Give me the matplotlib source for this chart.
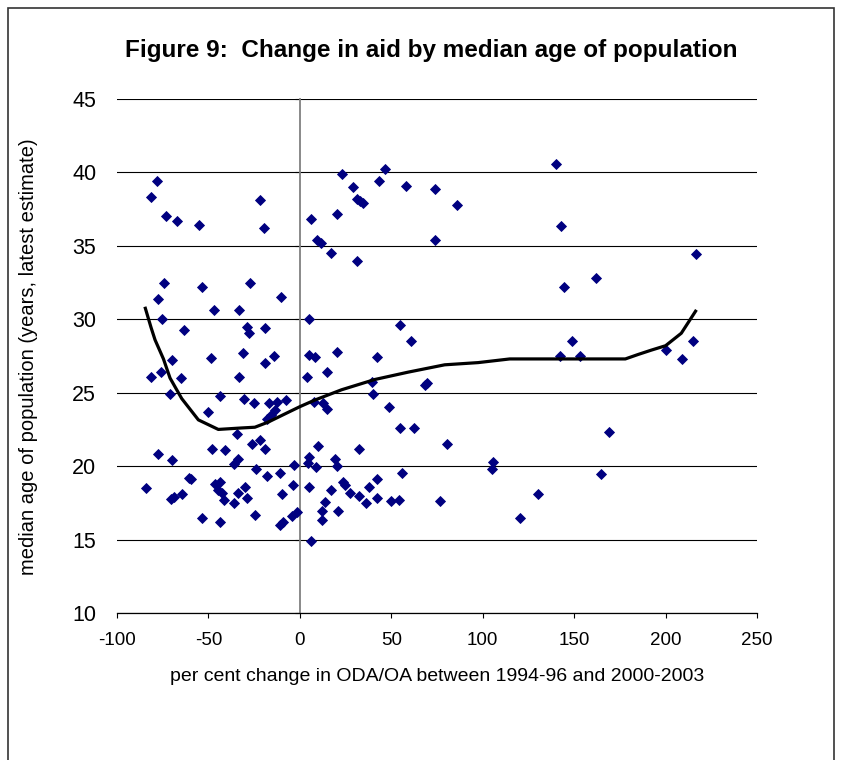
#!/usr/bin/env python3

import matplotlib
matplotlib.use("Agg")
import matplotlib.pyplot as plt

plt.rcParams['font.family'] = ['Liberation Sans', 'DejaVu Sans']
plt.rcParams['axes.unicode_minus'] = False

# per cent change in ODA/OA (x) and median age (y)
aid_change = [
    -78.3, -81.6, -73.2, -67.4, -55.2, -22.0, -19.7, 6.2, 9.5, 11.5,
    -74.3, -77.6, -53.7, -27.1, -10.4, -75.2, -46.8, -33.1, -63.4, -28.7,
    -28.0, -18.9, 5.1,
    -70.1, -48.6, -31.1, -14.4, -18.9, 5.1, 8.2, -81.6, -76.0, -65.0,
    -33.1, 3.7, -70.8, -43.5, -30.6, -25.3, -16.7, -12.3, -7.8, -50.4,
    -13.8, -16.0, -18.0, 7.7, -34.6, -21.9, -26.2, -18.9, -48.1, -41.1,
    -77.4, -69.9, -33.7, -36.1, -3.3, 10.1, 4.9, 4.6, 8.7, -23.8,
    -17.8, -11.1, -60.7, -59.6, -84.2, -46.4, -43.7, -44.6, -42.5, -30.1,
    -33.7, -29.0, -41.7, -36.2, -4.0, 5.1, -9.8, -64.6, -68.6, -70.5,
    -24.6, -53.7, -43.5, -1.3, -4.5, -9.1, -10.9, 6.0,
    22.8, 46.4, 43.2, 29.2, 58.3, 73.8, 31.5, 34.3, 32.8, 86.2,
    20.1, 73.8, 16.9, 31.2, 55.0, 60.9, 20.1, 42.3,
    15.0, 39.7, 40.1, 68.3, 69.6, 12.8, 15.0, 48.6, 54.9, 62.3,
    80.2, 32.5, 19.1, 20.1, 105.7, 105.3, 55.6, 42.3, 23.7, 24.6,
    27.3, 37.9, 16.9, 32.5, 35.9, 42.3, 49.7, 54.1, 76.5, 13.7,
    11.9, 21.0, 11.9,
    139.9, 143.0, 216.9, 144.3, 162.1, 148.8, 215.0, 142.5, 153.4, 200.0,
    209.1, 168.9, 164.5, 130.3, 120.2,
]
median_age = [
    39.4, 38.3, 37.0, 36.7, 36.4, 38.1, 36.2, 36.8, 35.4, 35.2,
    32.5, 31.4, 32.2, 32.5, 31.5, 30.0, 30.6, 30.6, 29.3, 29.5,
    29.05, 29.4, 30.0,
    27.2, 27.35, 27.7, 27.5, 27.0, 27.6, 27.45, 26.1, 26.4, 26.0,
    26.1, 26.1, 24.9, 24.8, 24.55, 24.3, 24.3, 24.4, 24.5, 23.7,
    23.8, 23.5, 23.2, 24.4, 22.2, 21.8, 21.5, 21.2, 21.2, 21.1,
    20.8, 20.4, 20.5, 20.15, 20.1, 21.4, 20.65, 20.2, 19.95, 19.8,
    19.35, 19.5, 19.2, 19.1, 18.5, 18.8, 18.95, 18.4, 18.2, 18.6,
    18.15, 17.8, 17.7, 17.5, 18.7, 18.6, 18.1, 18.1, 17.9, 17.75,
    16.7, 16.5, 16.2, 16.9, 16.6, 16.2, 16.0, 14.9,
    39.9, 40.2, 39.4, 39.0, 39.1, 38.85, 38.2, 37.9, 38.05, 37.8,
    37.2, 35.4, 34.5, 34.0, 29.6, 28.55, 27.8, 27.4,
    26.4, 25.75, 24.9, 25.5, 25.65, 24.3, 23.9, 24.0, 22.6, 22.6,
    21.5, 21.2, 20.5, 20.0, 20.3, 19.8, 19.5, 19.1, 18.95, 18.7,
    18.2, 18.6, 18.4, 18.0, 17.5, 17.8, 17.6, 17.7, 17.6, 17.55,
    16.95, 16.95, 16.3,
    40.55, 36.35, 34.45, 32.2, 32.8, 28.55, 28.55, 27.5, 27.5, 27.9,
    27.3, 22.3, 19.45, 18.1, 16.5,
]

# smoothed trend line
trend_x = [-84.5, -81.4, -79.2, -74.6, -71.0, -64.6, -55.5, -44.6, -31.9, -24.6,
           -17.3, -9.1, 0.0, 8.2, 22.8, 41.0, 59.2, 79.2, 97.5, 114.8,
           150.0, 178.0, 184.9, 192.2, 200.0, 208.6, 216.4]
trend_y = [30.75, 29.45, 28.6, 27.3, 26.0, 24.6, 23.15, 22.5, 22.6, 22.65,
           23.0, 23.5, 24.05, 24.5, 25.2, 25.9, 26.4, 26.9, 27.05, 27.3,
           27.3, 27.3, 27.6, 27.9, 28.2, 29.05, 30.55]

fig = plt.figure(figsize=(8.41, 7.60), dpi=100)
ax = fig.add_axes([117/841, 1-613/760, 640/841, 514/760])

ax.plot(aid_change, median_age, linestyle='none', marker='D', ms=5.0,
        color='#000080', mec='#000080', mew=0.6, zorder=3)
ax.plot(trend_x, trend_y, color='black', lw=2.3, zorder=4)

ax.set_xlim(-100, 250)
ax.set_ylim(10, 45)
ax.set_xticks(range(-100, 251, 50))
ax.set_yticks(range(10, 46, 5))

ax.yaxis.grid(True, color='black', lw=0.8)
ax.set_axisbelow(True)

for s in ['top', 'right']:
    ax.spines[s].set_visible(False)
ax.spines['left'].set_position(('data', 0))
ax.spines['left'].set_color('#808080')
ax.spines['left'].set_linewidth(1.3)
ax.spines['bottom'].set_linewidth(0.9)

ax.tick_params(axis='x', direction='out', length=3.6, width=0.8, labelsize=13.5, pad=10)
ax.tick_params(axis='y', direction='out', length=3.6, width=0.8, labelsize=15.5, pad=143)

ax.set_xlabel('per cent change in ODA/OA between 1994-96 and 2000-2003', fontsize=14, labelpad=14)
fig.text(29/841, 1-357/760, 'median age of population (years, latest estimate)',
         rotation=90, fontsize=14.5, ha='center', va='center')

fig.text(431.5/841, 1-50/760, 'Figure 9:  Change in aid by median age of population',
         fontsize=17.5, fontweight='bold', ha='center', va='center')

fig.add_artist(plt.Rectangle((8/841, -0.02), 826/841, 1-8/760+0.02,
                             transform=fig.transFigure, fill=False,
                             edgecolor='#333333', lw=1.2))

fig.savefig('out.png', dpi=100)
